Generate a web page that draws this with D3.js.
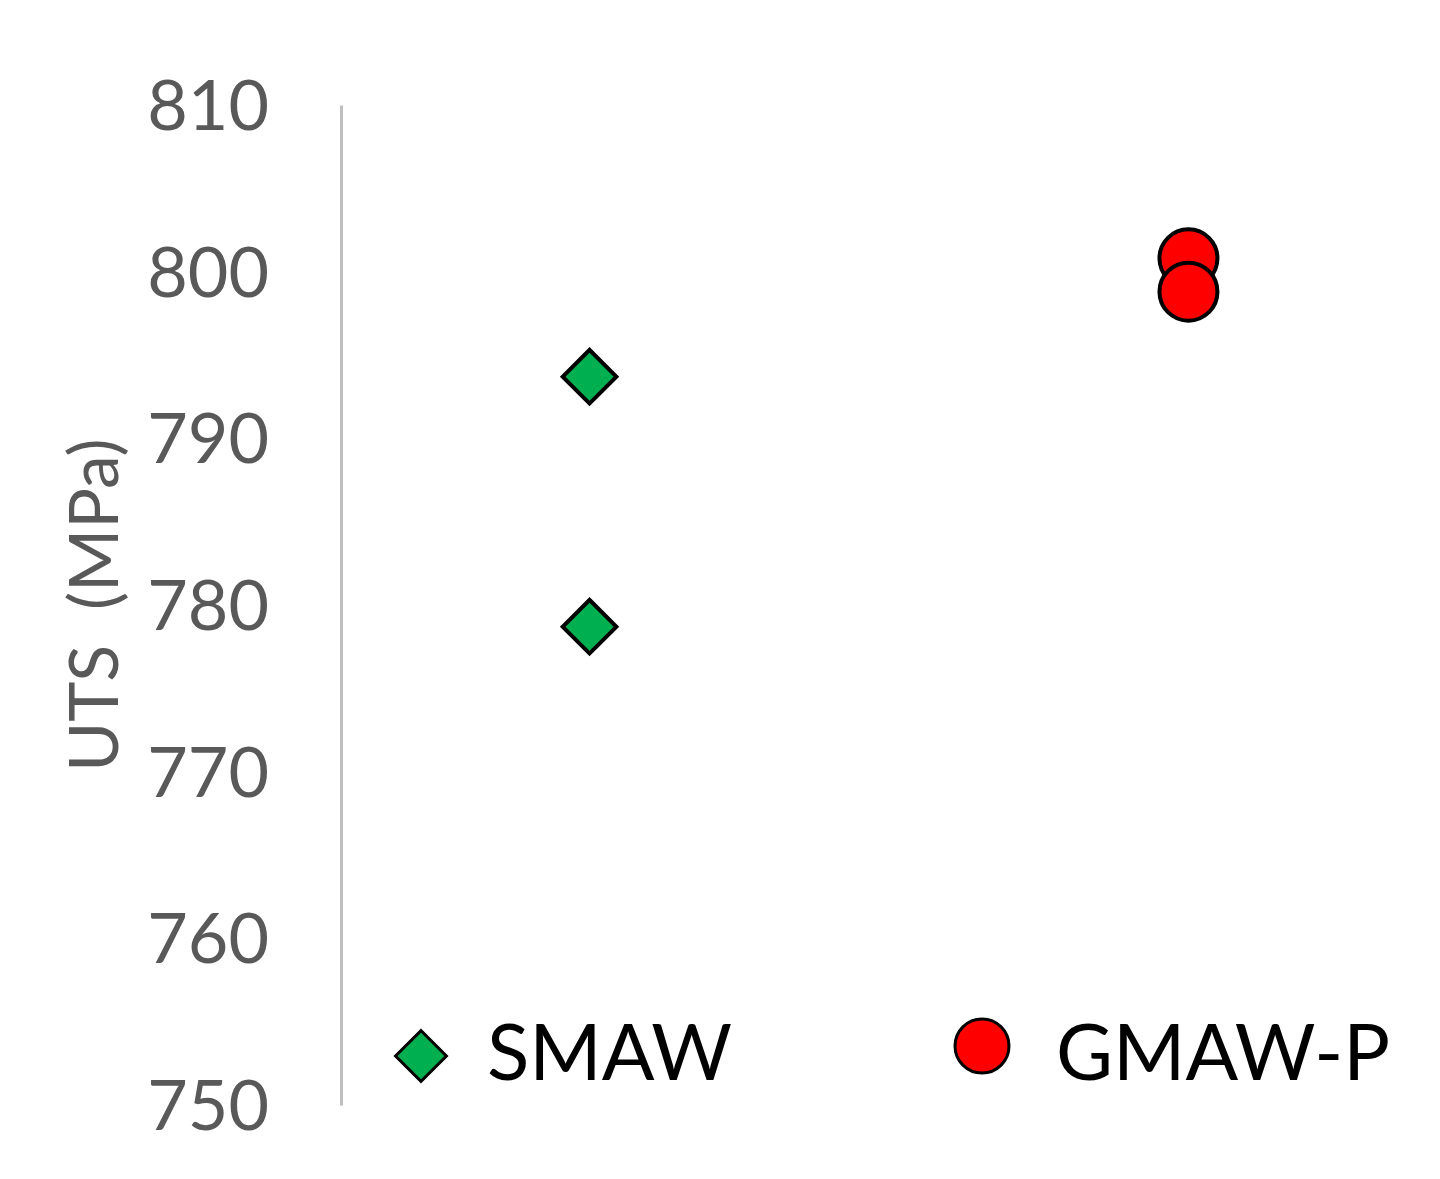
<!DOCTYPE html>
<html lang="en">
<head>
  <meta charset="UTF-8">
  <title>UTS by welding process</title>
  <script src="https://d3js.org/d3.v7.min.js"></script>
  <style>
    body { margin: 0; background: #fff; }
    svg text { font-family: 'Lato', 'Open Sans', sans-serif; }
  </style>
</head>
<body>
<div id="chart"></div>
<script>
    // data
    const processes = ["SMAW", "GMAW-P"];
    const smawValues = [793.7, 778.7];
    const gmawValues = [800.8, 798.8];
    const yTicks = [750, 760, 770, 780, 790, 800, 810];
    const seriesColors = ["#00B050", "#FF0000"];

    const W = 1440, H = 1179;

    const svg = d3.select("#chart")
        .append("svg")
        .attr("width", W)
        .attr("height", H);

    // scales
    const y = d3.scaleLinear()
        .domain([750, 810])
        .range([1105, 105]);

    const x = d3.scalePoint()
        .domain(processes)
        .range([341, 1437])
        .padding(0.415);

    // y axis
    const yAxis = svg.append("g")
        .attr("transform", "translate(341,0)")
        .call(d3.axisLeft(y).tickValues(yTicks).tickSize(0).tickPadding(72).tickFormat(d3.format("d")));
    yAxis.select(".domain")
        .attr("stroke", "#BFBFBF")
        .attr("stroke-width", 3);
    yAxis.selectAll("text")
        .attr("fill", "#595959")
        .style("font-size", "70px")
        .attr("dy", "0.35em");

    // y axis title
    svg.append("text")
        .attr("transform", `translate(118, ${y(780)}) rotate(-90)`)
        .attr("text-anchor", "middle")
        .attr("fill", "#595959")
        .style("font-size", "68px")
        .style("white-space", "pre")
        .text("UTS  (MPa)");

    const diamond = d3.symbol().type(d3.symbolSquare).size(38 * 38);
    const circle = d3.symbol().type(d3.symbolCircle).size(Math.PI * 29 * 29);

    // SMAW points
    svg.append("g")
        .selectAll("path")
        .data(smawValues)
        .enter()
        .append("path")
        .attr("transform", d => `translate(${x("SMAW")},${y(d)}) rotate(45)`)
        .attr("d", diamond)
        .attr("fill", seriesColors[0])
        .attr("stroke", "#000")
        .attr("stroke-width", 4);

    // GMAW-P points
    svg.append("g")
        .selectAll("path")
        .data(gmawValues)
        .enter()
        .append("path")
        .attr("transform", d => `translate(${x("GMAW-P")},${y(d)})`)
        .attr("d", circle)
        .attr("fill", seriesColors[1])
        .attr("stroke", "#000")
        .attr("stroke-width", 4);

    // legend
    const legendX = [421, 982];
    const legend = svg.append("g");
    const items = legend.selectAll("g")
        .data(processes)
        .enter()
        .append("g")
        .attr("transform", (d, i) => `translate(${legendX[i]}, ${i === 0 ? 1056 : 1046})`);

    items.append("path")
        .attr("d", (d, i) => i === 0
            ? d3.symbol().type(d3.symbolSquare).size(36 * 36)()
            : d3.symbol().type(d3.symbolCircle).size(Math.PI * 27 * 27)())
        .attr("transform", (d, i) => i === 0 ? "rotate(45)" : null)
        .attr("fill", (d, i) => seriesColors[i])
        .attr("stroke", "#000")
        .attr("stroke-width", 3);

    items.append("text")
        .attr("x", (d, i) => i === 0 ? 66 : 74)
        .attr("y", (d, i) => i === 0 ? 24 : 34)
        .attr("fill", "#000")
        .style("font-size", "78px")
        .text(d => d);
</script>
</body>
</html>
